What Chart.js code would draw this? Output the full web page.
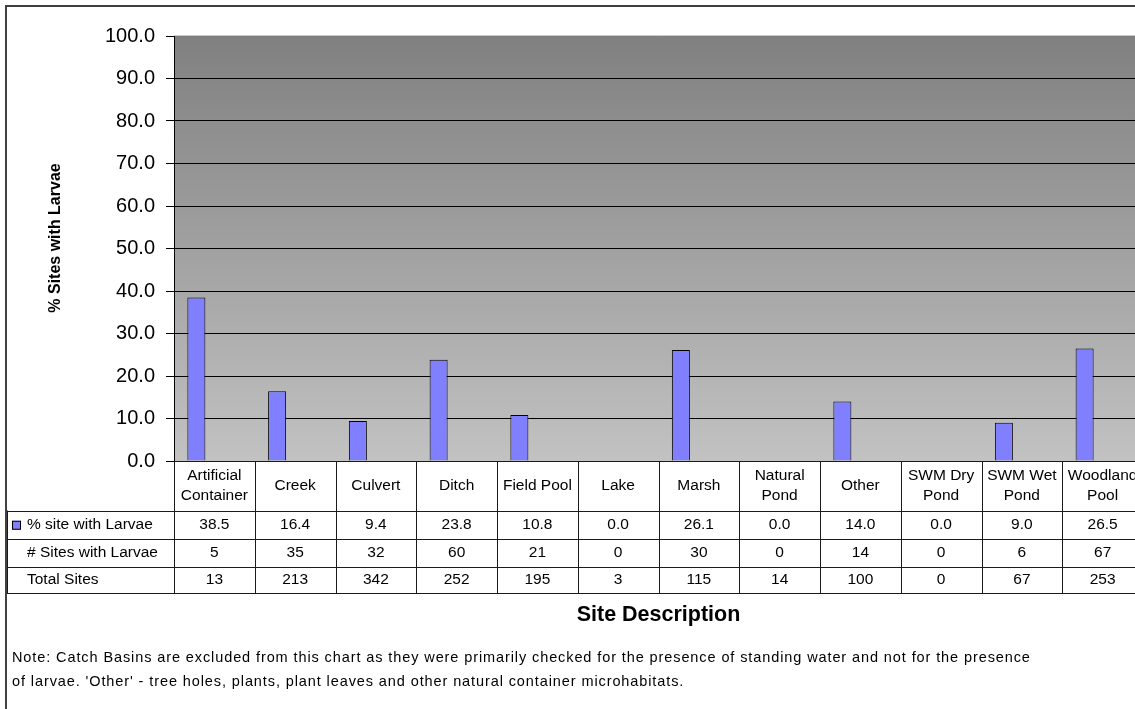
<!DOCTYPE html>
<html>
<head>
<meta charset="utf-8">
<script src="https://cdn.jsdelivr.net/npm/chart.js@4.4.1/dist/chart.umd.min.js"></script>
<style>
  html, body { margin: 0; padding: 0; background: #fff; overflow: hidden; width: 1135px; height: 709px; }
  #wrap { position: absolute; left: 0; top: 0; width: 1150px; height: 709px; }
</style>
</head>
<body>
<div id="wrap"><canvas id="chart" width="1150" height="709"></canvas></div>
<script>
// Datos de la tabla
const categories = [
  ['Artificial', 'Container'], 'Creek', 'Culvert', 'Ditch', 'Field Pool', 'Lake',
  'Marsh', ['Natural', 'Pond'], 'Other', ['SWM Dry', 'Pond'], ['SWM Wet', 'Pond'], ['Woodland', 'Pool']
];
const pctWithLarvae = [38.5, 16.4, 9.4, 23.8, 10.8, 0.0, 26.1, 0.0, 14.0, 0.0, 9.0, 26.5];
const sitesWithLarvae = [5, 35, 32, 60, 21, 0, 30, 0, 14, 0, 6, 67];
const totalSites = [13, 213, 342, 252, 195, 3, 115, 14, 100, 0, 67, 253];
const rowLabels = ['% site with Larvae', '# Sites with Larvae', 'Total Sites'];
const yMin = 0, yMax = 100, yStep = 10;

const FONT = '"Liberation Sans", Arial, sans-serif';
const noteLines = [
  "Note: Catch Basins are excluded from this chart as they were primarily checked for the presence of standing water and not for the presence",
  "of larvae. 'Other' - tree holes, plants, plant leaves and other natural container microhabitats."
];

// Fondo degradado del área de trazado
const plotBackground = {
  id: 'plotBackground',
  beforeDraw(chart) {
    const { ctx, chartArea: a } = chart;
    const g = ctx.createLinearGradient(0, a.top, 0, a.bottom);
    g.addColorStop(0, '#808080');
    g.addColorStop(1, '#c2c2c2');
    ctx.save();
    ctx.fillStyle = '#fff';
    ctx.fillRect(0, 0, chart.width, chart.height);
    ctx.fillStyle = g;
    ctx.fillRect(a.left, a.top, a.right - a.left, a.bottom - a.top);
    ctx.strokeStyle = '#c8c8c8';
    ctx.lineWidth = 1;
    ctx.beginPath();
    ctx.moveTo(a.left, a.top - 0.5);
    ctx.lineTo(a.right, a.top - 0.5);
    ctx.stroke();
    ctx.restore();
  }
};

// Tabla de datos debajo del eje X, títulos y nota
const dataTable = {
  id: 'dataTable',
  afterDraw(chart) {
    const { ctx, chartArea: a } = chart;
    const x = chart.scales.x;
    const n = categories.length;
    const edges = [];
    for (let i = 0; i <= n; i++) edges.push(x.getPixelForValue(i - 0.5));
    const leftCol = 7;
    const rows = [a.bottom, 510.5, 539, 567, 593];

    ctx.save();
    ctx.strokeStyle = '#1a1a1a';
    ctx.lineWidth = 1;
    ctx.beginPath();
    // lineas horizontales
    ctx.moveTo(a.left, Math.round(rows[0]) + 0.5);
    ctx.lineTo(edges[n], Math.round(rows[0]) + 0.5);
    for (let r = 1; r < rows.length; r++) {
      const y = Math.round(rows[r]) + 0.5;
      ctx.moveTo(leftCol, y);
      ctx.lineTo(edges[n], y);
    }
    // lineas verticales
    edges.forEach(ex => {
      const xx = Math.round(ex) + 0.5;
      ctx.moveTo(xx, rows[0]);
      ctx.lineTo(xx, rows[4]);
    });
    ctx.moveTo(leftCol + 0.5, rows[1]);
    ctx.lineTo(leftCol + 0.5, rows[4]);
    ctx.stroke();

    // encabezados de categoría
    ctx.fillStyle = '#000';
    ctx.font = '15.5px ' + FONT;
    ctx.textAlign = 'center';
    ctx.textBaseline = 'middle';
    const hMid = (rows[0] + rows[1]) / 2;
    categories.forEach((c, i) => {
      const cx = x.getPixelForValue(i);
      const lines = Array.isArray(c) ? c : [c];
      lines.forEach((t, k) => {
        ctx.fillText(t, cx, hMid + (k - (lines.length - 1) / 2) * 20);
      });
    });

    // valores
    const series = [pctWithLarvae.map(v => v.toFixed(1)), sitesWithLarvae, totalSites];
    series.forEach((vals, r) => {
      const cy = (rows[r + 1] + rows[r + 2]) / 2;
      vals.forEach((v, i) => ctx.fillText(String(v), x.getPixelForValue(i), cy));
      ctx.textAlign = 'left';
      ctx.fillText(rowLabels[r], 27, cy);
      ctx.textAlign = 'center';
    });

    // clave de leyenda
    const ky = (rows[1] + rows[2]) / 2 - 4;
    ctx.fillStyle = '#8080ff';
    ctx.fillRect(12, ky, 9, 9);
    ctx.strokeStyle = '#000';
    ctx.strokeRect(12.5, ky + 0.5, 8, 8);

    // título eje Y
    ctx.fillStyle = '#000';
    ctx.save();
    ctx.translate(56, 238);
    ctx.rotate(-Math.PI / 2);
    ctx.font = 'bold 16px ' + FONT;
    ctx.fillText('% Sites with Larvae', 0, 0);
    ctx.restore();

    // título eje X
    ctx.font = 'bold 21.5px ' + FONT;
    ctx.fillText('Site Description', (a.left + a.right) / 2, 615);

    // nota
    ctx.font = '14.5px ' + FONT;
    ctx.letterSpacing = '0.9px';
    ctx.textAlign = 'left';
    ctx.fillText(noteLines[0], 12, 658);
    ctx.fillText(noteLines[1], 12, 682);
    ctx.letterSpacing = '0px';

    // marco exterior
    ctx.strokeStyle = '#404040';
    ctx.lineWidth = 2;
    ctx.beginPath();
    ctx.moveTo(6, chart.height);
    ctx.lineTo(6, 6);
    ctx.lineTo(chart.width, 6);
    ctx.stroke();
    ctx.restore();
  }
};

const ctx = document.getElementById('chart').getContext('2d');
new Chart(ctx, {
  type: 'bar',
  data: {
    labels: categories,
    datasets: [
      {
        label: rowLabels[0],
        data: pctWithLarvae,
        backgroundColor: '#8080ff',
        borderColor: '#000',
        borderWidth: c => (c.raw ? 1 : 0),
        categoryPercentage: 0.669,
        barPercentage: 1
      },
      {
        label: rowLabels[1],
        data: sitesWithLarvae,
        backgroundColor: 'rgba(0,0,0,0)',
        borderWidth: 0,
        categoryPercentage: 0.669,
        barPercentage: 1
      },
      {
        label: rowLabels[2],
        data: totalSites,
        backgroundColor: 'rgba(0,0,0,0)',
        borderWidth: 0,
        categoryPercentage: 0.669,
        barPercentage: 1
      }
    ]
  },
  options: {
    responsive: false,
    animation: false,
    layout: { padding: { top: 36, bottom: 248, left: 0, right: 7 } },
    plugins: {
      legend: { display: false },
      tooltip: { enabled: false }
    },
    scales: {
      x: { display: false, offset: true },
      y: {
        min: yMin,
        max: yMax,
        afterFit: s => { s.width = 174; },
        ticks: {
          stepSize: yStep,
          color: '#000',
          padding: 11,
          font: { family: FONT, size: 20 },
          callback: v => Number(v).toFixed(1)
        },
        grid: {
          color: c => (c.tick && c.tick.value === yMax ? 'rgba(0,0,0,0)' : '#000'),
          tickColor: '#000',
          tickLength: 8,
          lineWidth: 1
        },
        border: { color: '#000', width: 1 }
      }
    }
  },
  plugins: [plotBackground, dataTable]
});
</script>
</body>
</html>
